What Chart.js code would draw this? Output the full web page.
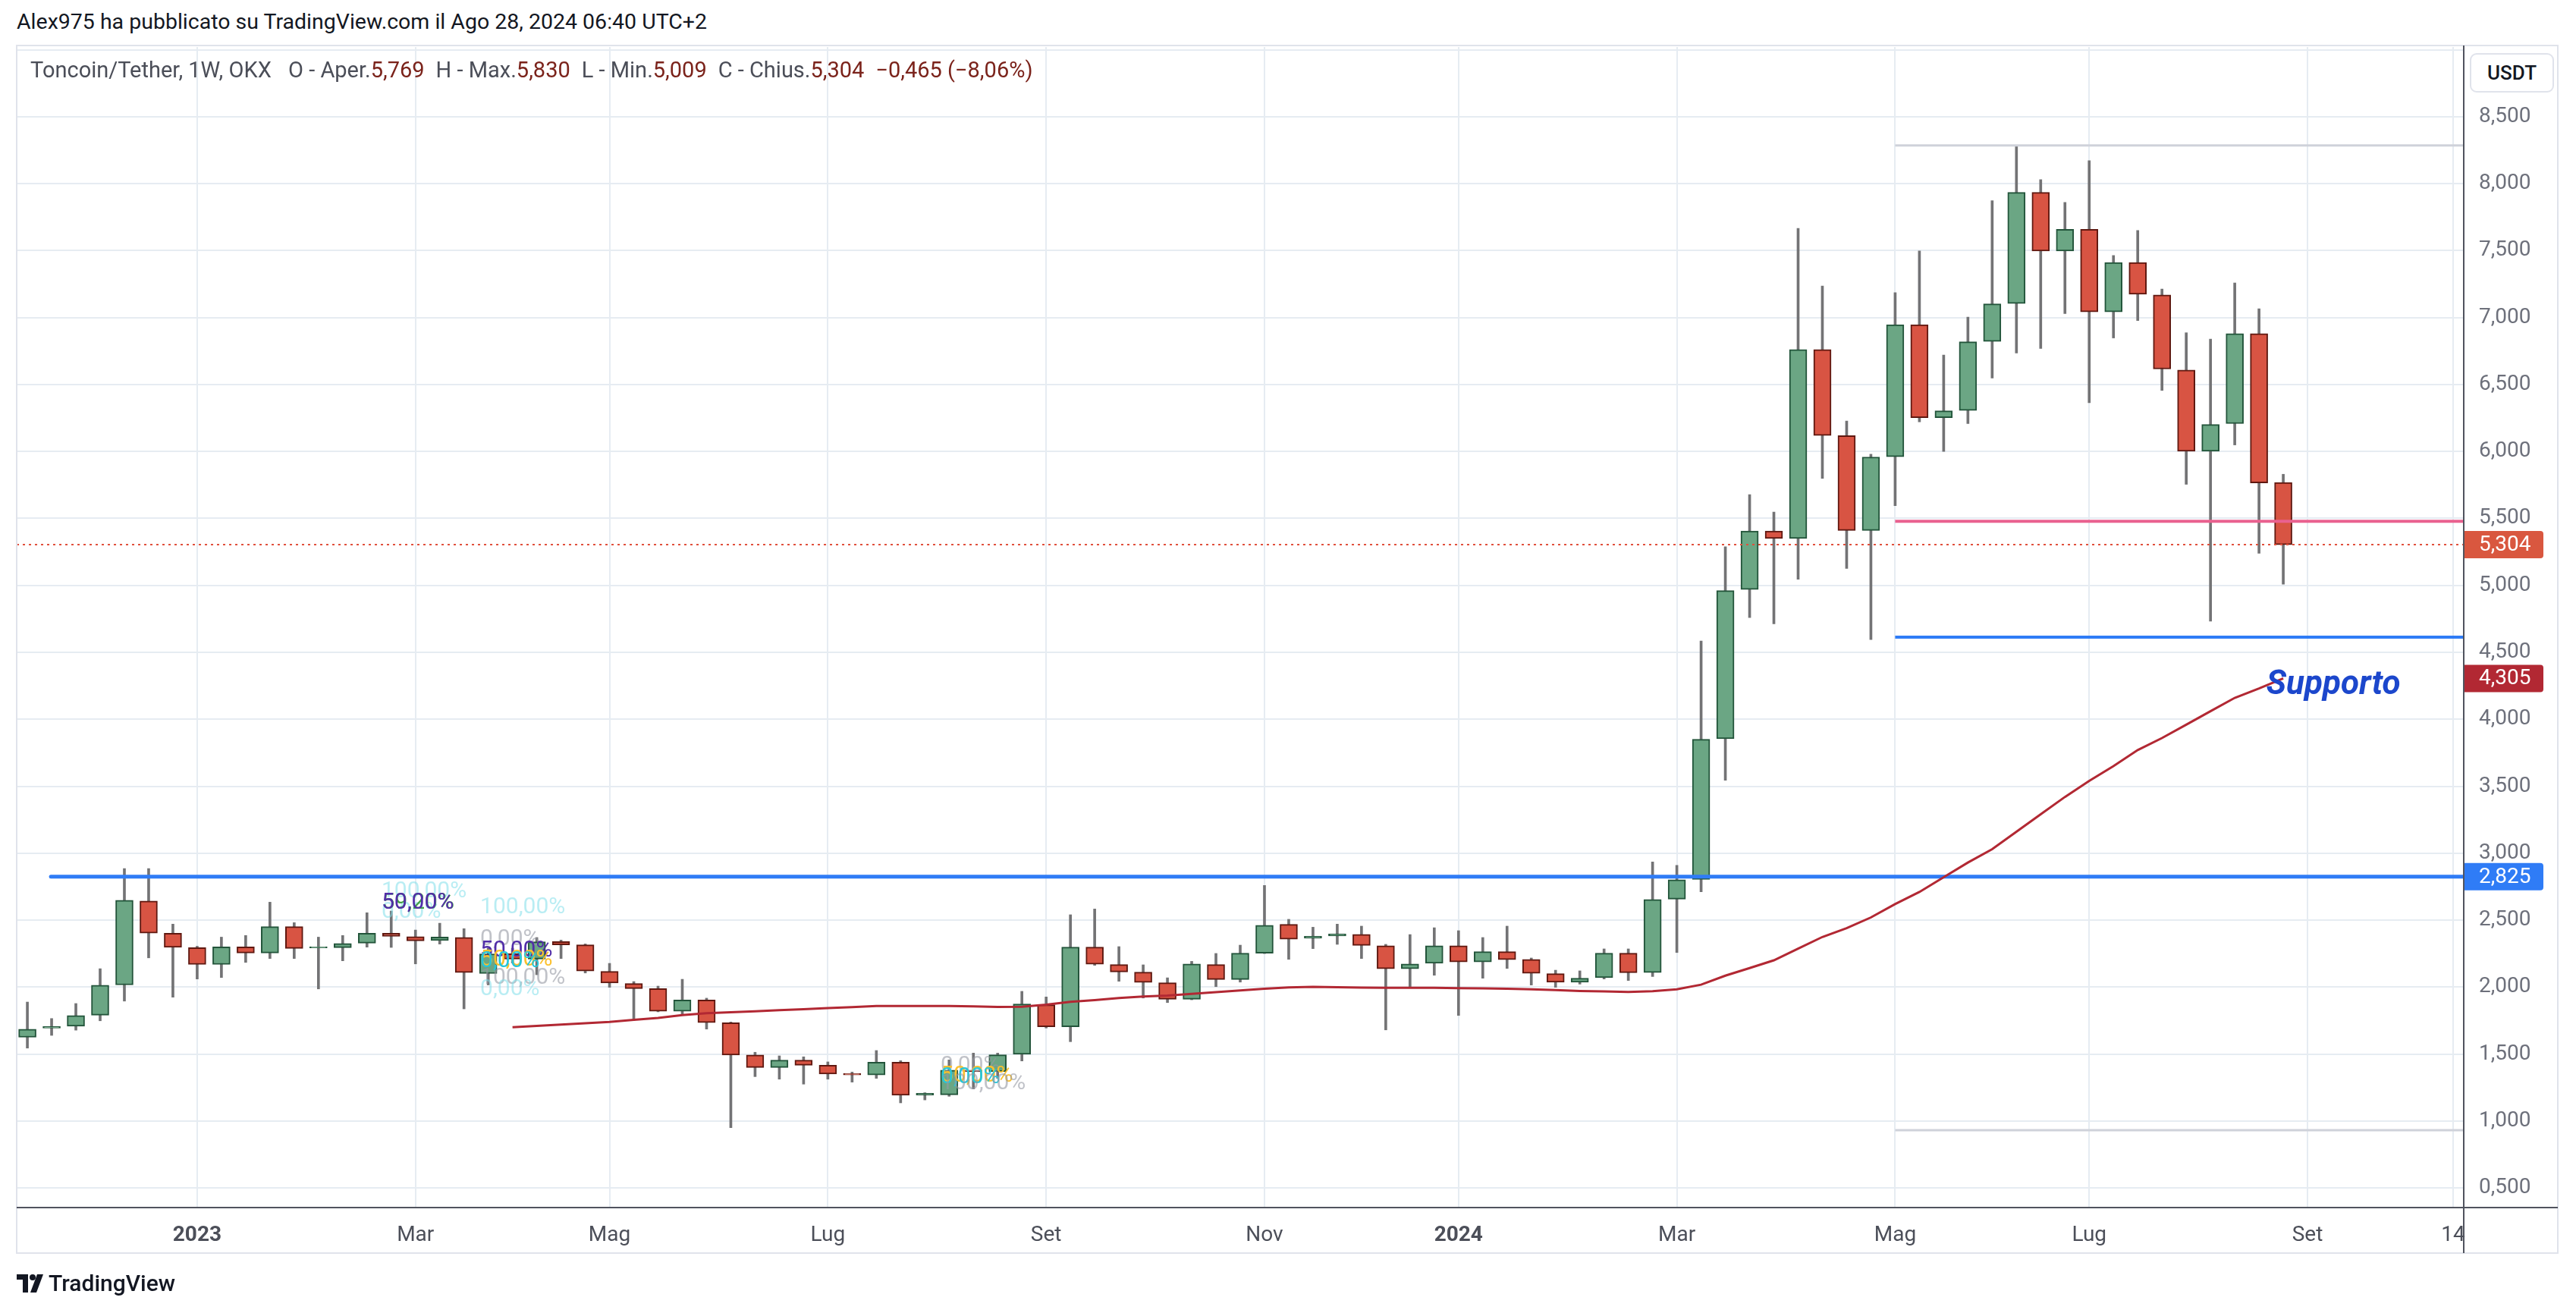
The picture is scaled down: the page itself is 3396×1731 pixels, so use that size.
<!DOCTYPE html>
<html>
<head>
<meta charset="utf-8">
<title>Toncoin/Tether 1W</title>
<script src="https://cdn.jsdelivr.net/npm/chart.js@4.4.1/dist/chart.umd.min.js"></script>
<style>
    html, body { margin: 0; padding: 0; background: #fff; width: 3396px; height: 1731px; overflow: hidden; font-family: Roboto, "Noto Sans", sans-serif; }
    #chart { position: absolute; left: 0; top: 0; }
    #header { position: absolute; left: 22px; top: 12px; font-size: 28.5px; color: #131722; white-space: nowrap; }
    #legend { position: absolute; left: 40px; top: 75px; font-size: 29px; color: #4b4e58; white-space: nowrap; z-index: 2; }
    #legend .v { color: #7b231b; }
    #legend .g { margin-left: 15px; }
    #usdt { position: absolute; left: 3256px; top: 70px; width: 107px; height: 48px; border: 2px solid #e0e3eb; border-radius: 9px; font-size: 26px; font-weight: 500; color: #131722; text-align: center; line-height: 48px; background: #fff; z-index: 2; }
    #footer { position: absolute; left: 22px; top: 1674px; display: flex; align-items: center; font-size: 30px; font-weight: 500; color: #131722; }
    #footer svg { margin-right: 6px; }
</style>
</head>
<body>
<div id="header">Alex975 ha pubblicato su TradingView.com il Ago 28, 2024 06:40 UTC+2</div>
<canvas id="chart" width="3396" height="1731"></canvas>
<div id="legend">Toncoin/Tether, 1W, OKX <span class="g">O - Aper.<span class="v">5,769</span></span><span class="g">H - Max.<span class="v">5,830</span></span><span class="g">L - Min.<span class="v">5,009</span></span><span class="g">C - Chius.<span class="v">5,304</span></span><span class="g v">−0,465 (−8,06%)</span></div>
<div id="usdt">USDT</div>
<div id="footer">
    <svg width="36" height="24" viewBox="0 0 36 24"><path d="M0 0h15v24H8V7H0z" fill="#131722"/><circle cx="21" cy="4" r="4" fill="#131722"/><path d="M27 0h8l-9 24h-8z" fill="#131722"/></svg>
    <span>TradingView</span>
</div>
<script>
// Weekly candles, Nov 14 2022 .. Aug 26 2024 (index 0 = first week)
const opens  = [1.625, 1.693, 1.707, 1.790, 2.016, 2.643, 2.402, 2.294, 2.169, 2.300,
                2.254, 2.451, 2.292, 2.294, 2.328, 2.402, 2.377, 2.347, 2.371, 2.101,
                2.249, 2.209, 2.340, 2.315, 2.117, 2.026, 1.989, 1.819, 1.904, 1.734,
                1.492, 1.399, 1.454, 1.416, 1.354, 1.343, 1.439, 1.194, 1.195, 1.380,
                1.369, 1.498, 1.868, 1.703, 2.298, 2.168, 2.111, 2.032, 1.909, 2.168,
                2.056, 2.253, 2.468, 2.365, 2.382, 2.394, 2.309, 2.137, 2.177, 2.309,
                2.188, 2.264, 2.207, 2.100, 2.036, 2.070, 2.253, 2.108, 2.657, 2.804,
                3.854, 4.970, 5.406, 5.350, 6.762, 6.119, 5.410, 5.961, 6.947, 6.252,
                6.307, 6.822, 7.105, 7.935, 7.498, 7.659, 7.043, 7.412, 7.170, 6.608,
                6.002, 6.208, 6.881, 5.769];
const highs  = [1.888, 1.765, 1.877, 2.137, 2.885, 2.885, 2.470, 2.305, 2.373, 2.385,
                2.634, 2.481, 2.373, 2.385, 2.555, 2.568, 2.426, 2.477, 2.436, 2.290,
                2.290, 2.370, 2.351, 2.322, 2.177, 2.041, 2.007, 2.058, 1.917, 1.739,
                1.513, 1.486, 1.479, 1.441, 1.365, 1.526, 1.450, 1.211, 1.456, 1.507,
                1.507, 1.968, 1.926, 2.540, 2.583, 2.302, 2.166, 2.069, 2.192, 2.251,
                2.313, 2.759, 2.506, 2.447, 2.470, 2.455, 2.319, 2.392, 2.443, 2.421,
                2.370, 2.455, 2.217, 2.126, 2.121, 2.285, 2.285, 2.935, 2.909, 4.585,
                5.288, 5.678, 5.548, 7.667, 7.236, 6.228, 5.979, 7.186, 7.498, 6.720,
                7.004, 7.873, 8.286, 8.031, 7.860, 8.172, 7.464, 7.651, 7.214, 6.887,
                6.840, 7.259, 7.066, 5.830];
const lows   = [1.544, 1.639, 1.678, 1.748, 1.895, 2.218, 1.924, 2.060, 2.071, 2.184,
                2.213, 2.213, 1.986, 2.196, 2.298, 2.296, 2.173, 2.321, 1.837, 2.016,
                2.180, 2.092, 2.213, 2.105, 1.998, 1.752, 1.815, 1.790, 1.686, 0.950,
                1.331, 1.312, 1.275, 1.312, 1.290, 1.318, 1.135, 1.157, 1.184, 1.239,
                1.318, 1.448, 1.694, 1.592, 2.162, 2.043, 1.918, 1.884, 1.905, 2.003,
                2.037, 2.250, 2.207, 2.287, 2.319, 2.213, 1.680, 2.003, 2.088, 1.788,
                2.066, 2.139, 2.015, 1.998, 2.022, 2.060, 2.049, 2.079, 2.258, 2.712,
                3.545, 4.759, 4.713, 5.046, 5.799, 5.127, 4.595, 5.596, 6.221, 6.000,
                6.208, 6.549, 6.736, 6.770, 7.030, 6.364, 6.848, 6.978, 6.457, 5.755,
                4.733, 6.049, 5.240, 5.009];
const closes = [1.686, 1.705, 1.788, 2.014, 2.649, 2.403, 2.296, 2.169, 2.300, 2.254,
                2.451, 2.288, 2.302, 2.326, 2.402, 2.379, 2.345, 2.374, 2.108, 2.248,
                2.209, 2.338, 2.315, 2.120, 2.030, 1.988, 1.819, 1.904, 1.734, 1.492,
                1.399, 1.454, 1.416, 1.350, 1.344, 1.439, 1.192, 1.206, 1.380, 1.368,
                1.494, 1.873, 1.703, 2.298, 2.171, 2.113, 2.034, 1.909, 2.173, 2.056,
                2.253, 2.462, 2.357, 2.379, 2.396, 2.311, 2.137, 2.173, 2.309, 2.188,
                2.264, 2.204, 2.102, 2.036, 2.066, 2.253, 2.107, 2.654, 2.801, 3.851,
                4.961, 5.406, 5.351, 6.762, 6.119, 5.410, 5.959, 6.947, 6.252, 6.304,
                6.819, 7.103, 7.935, 7.498, 7.659, 7.043, 7.412, 7.175, 6.616, 6.002,
                6.202, 6.881, 5.765, 5.304];

// Moving average, starting at candle 20
const maStart = 20;
const maValues = [1.700, 1.710, 1.720, 1.730, 1.740, 1.755, 1.770, 1.790, 1.805, 1.812,
                  1.819, 1.827, 1.835, 1.843, 1.850, 1.858, 1.858, 1.858, 1.858, 1.856,
                  1.851, 1.853, 1.868, 1.890, 1.903, 1.918, 1.930, 1.937, 1.949, 1.962,
                  1.975, 1.988, 1.998, 2.001, 1.999, 1.996, 1.994, 1.994, 1.994, 1.992,
                  1.990, 1.988, 1.983, 1.977, 1.971, 1.967, 1.964, 1.969, 1.983, 2.018,
                  2.085, 2.142, 2.200, 2.287, 2.374, 2.440, 2.520, 2.620, 2.710, 2.820,
                  2.930, 3.030, 3.160, 3.290, 3.420, 3.540, 3.650, 3.770, 3.860, 3.960,
                  4.060, 4.160, 4.230, 4.305];

// x axis: week index of first bar of each labelled month
const xTickPos    = [7, 16, 24, 33, 42, 51, 59, 68, 77, 85, 94, 100];
const xTickLabels = ['2023', 'Mar', 'Mag', 'Lug', 'Set', 'Nov', '2024', 'Mar', 'Mag', 'Lug', 'Set', '14'];
const xMin = -0.44, xMax = 100.44;

// y axis
const yTicks = [0.5, 1, 1.5, 2, 2.5, 3, 3.5, 4, 4.5, 5, 5.5, 6, 6.5, 7, 7.5, 8, 8.5, 9];
const yMin = 0.353, yMax = 9.021;

// drawn levels
const supportLevel = 2.825;
const rangeTop = 8.286, rangeBottom = 0.931;
const pinkLevel = 5.479, blueLevel = 4.613;
const lastClose = 5.304, lastMa = 4.305;
const levelStart = 77;

// fibonacci labels left on the chart: [week, price, text, colour key]
const fibLabels = [
    [14.6, 2.715, '100,00%', 'pale'], [14.6, 2.562, '0,00%', 'pale'],
    [14.62, 2.630, '59,20%', 'green'], [14.6, 2.630, '50,00%', 'purple'],
    [18.67, 2.591, '100,00%', 'pale'], [18.67, 2.358, '0,00%', 'gray'],
    [18.67, 2.273, '50,00%', 'purple'], [18.67, 2.205, '50,00%', 'yellow'],
    [18.67, 2.194, '0,00%', 'cyan'], [18.67, 2.064, '100,00%', 'gray'],
    [18.67, 1.979, '0,00%', 'pale'],
    [37.65, 1.412, '0,00%', 'gray'], [37.65, 1.338, '50,00%', 'yellow'],
    [37.65, 1.327, '0,00%', 'cyan'], [37.65, 1.280, '100,00%', 'gray']
];
const fibColors = { pale: 'rgba(128,222,234,0.55)', gray: 'rgba(150,153,163,0.6)', purple: '#512da8', green: '#43a047', yellow: '#fbc02d', cyan: '#26c6da' };

const upFill = '#6ba684', upLine = '#22543a';
const downFill = '#d85443', downLine = '#5f1810';

function fmt(v) { return v.toFixed(3).replace('.', ','); }
function isUp(i) { return closes[i] >= opens[i]; }

function hline(value, from, color, width, extra) {
    return Object.assign({
        type: 'line',
        data: [{ x: from, y: value }, { x: xMax + 1, y: value }],
        borderColor: color,
        borderWidth: width,
        pointRadius: 0,
        order: 1
    }, extra || {});
}

const overlay = {
    id: 'overlay',
    afterDatasetsDraw(chart) {
        const ctx = chart.ctx, xs = chart.scales.x, ys = chart.scales.y;
        ctx.save();
        ctx.font = '30px Roboto';
        ctx.textBaseline = 'middle';
        ctx.textAlign = 'left';
        fibLabels.forEach(([wx, p, t, c]) => {
            ctx.fillStyle = fibColors[c];
            ctx.fillText(t, xs.getPixelForValue(wx), ys.getPixelForValue(p));
        });
        ctx.font = 'italic bold 44px Roboto';
        ctx.fillStyle = '#1c47cc';
        ctx.textBaseline = 'alphabetic';
        ctx.fillText('Supporto', xs.getPixelForValue(92.3), ys.getPixelForValue(4.188));
        ctx.restore();
    },
    afterDraw(chart) {
        const ctx = chart.ctx, ca = chart.chartArea, xs = chart.scales.x, ys = chart.scales.y;
        const paneRight = ys.right, paneBottom = xs.bottom, paneTop = ca.top - 2;
        ctx.save();
        // pane border
        ctx.strokeStyle = '#e0e3eb';
        ctx.lineWidth = 2;
        ctx.strokeRect(ca.left, paneTop, paneRight - ca.left, paneBottom - paneTop);
        // axis lines
        ctx.strokeStyle = '#50535e';
        ctx.beginPath();
        ctx.moveTo(ca.right, paneTop); ctx.lineTo(ca.right, paneBottom);
        ctx.moveTo(ca.left, ca.bottom); ctx.lineTo(paneRight, ca.bottom);
        ctx.stroke();
        // price tags
        const tags = [[lastClose, '#d9573f'], [lastMa, '#b22833'], [supportLevel, '#2f7cf6']];
        ctx.font = '28px Roboto';
        ctx.textBaseline = 'middle';
        tags.forEach(([v, col]) => {
            const y = ys.getPixelForValue(v);
            ctx.fillStyle = col;
            ctx.beginPath();
            ctx.roundRect(ca.right + 1, y - 18, 104, 36, [0, 4, 4, 0]);
            ctx.fill();
            ctx.fillStyle = '#fff';
            ctx.fillText(fmt(v), ca.right + 20, y + 1);
        });
        ctx.restore();
    }
};

const gridColor = '#e6ecf2';

new Chart(document.getElementById('chart'), {
    type: 'bar',
    data: {
        datasets: [
            // wicks
            {
                data: lows.map((l, i) => ({ x: i, y: [l, highs[i]] })),
                backgroundColor: '#737375',
                barThickness: 3,
                grouped: false,
                order: 3
            },
            // bodies
            {
                data: opens.map((o, i) => ({ x: i, y: [o, closes[i]] })),
                backgroundColor: ctx => isUp(ctx.dataIndex) ? upFill : downFill,
                borderColor: ctx => isUp(ctx.dataIndex) ? upLine : downLine,
                borderWidth: 2,
                borderSkipped: false,
                barThickness: 23,
                grouped: false,
                order: 2
            },
            // moving average
            {
                type: 'line',
                data: maValues.map((v, i) => ({ x: maStart + i, y: v })),
                borderColor: '#b22833',
                borderWidth: 3,
                pointRadius: 0,
                order: 1
            },
            hline(supportLevel, 0.97, '#2f7cf6', 5, { borderCapStyle: 'round' }),
            hline(rangeTop, levelStart, '#cfd2da', 3),
            hline(rangeBottom, levelStart, '#cfd2da', 3),
            hline(pinkLevel, levelStart, '#e9618f', 4),
            hline(blueLevel, levelStart, '#2f7cf6', 4),
            hline(lastClose, xMin - 1, '#e0503c', 2, { borderDash: [3, 5] })
        ]
    },
    options: {
        responsive: false,
        devicePixelRatio: 1,
        animation: false,
        layout: { padding: { left: 22, top: 62, right: 24, bottom: 79 } },
        plugins: { legend: { display: false }, tooltip: { enabled: false } },
        scales: {
            x: {
                type: 'linear',
                min: xMin,
                max: xMax,
                offset: false,
                grid: { color: gridColor, lineWidth: 2, drawTicks: false, offset: false },
                border: { display: false },
                afterBuildTicks: s => { s.ticks = xTickPos.map(v => ({ value: v })); },
                afterFit: s => { s.height = 60; },
                ticks: {
                    autoSkip: false,
                    maxRotation: 0,
                    padding: 20,
                    color: '#4c4f59',
                    font: ctx => ({ family: 'Roboto', size: 28, weight: /^\d{4}$/.test(xTickLabels[ctx.index]) ? 'bold' : 'normal' }),
                    callback: (v, i) => xTickLabels[i]
                }
            },
            y: {
                position: 'right',
                min: yMin,
                max: yMax,
                grid: { color: gridColor, lineWidth: 2, drawTicks: false },
                border: { display: false },
                afterBuildTicks: s => { s.ticks = yTicks.map(v => ({ value: v })); },
                afterFit: s => { s.width = 124; },
                ticks: {
                    padding: 20,
                    color: '#6d707b',
                    font: { family: 'Roboto', size: 28 },
                    callback: v => v > 8.9 ? '' : fmt(v)
                }
            }
        }
    },
    plugins: [overlay]
});
</script>
</body>
</html>
